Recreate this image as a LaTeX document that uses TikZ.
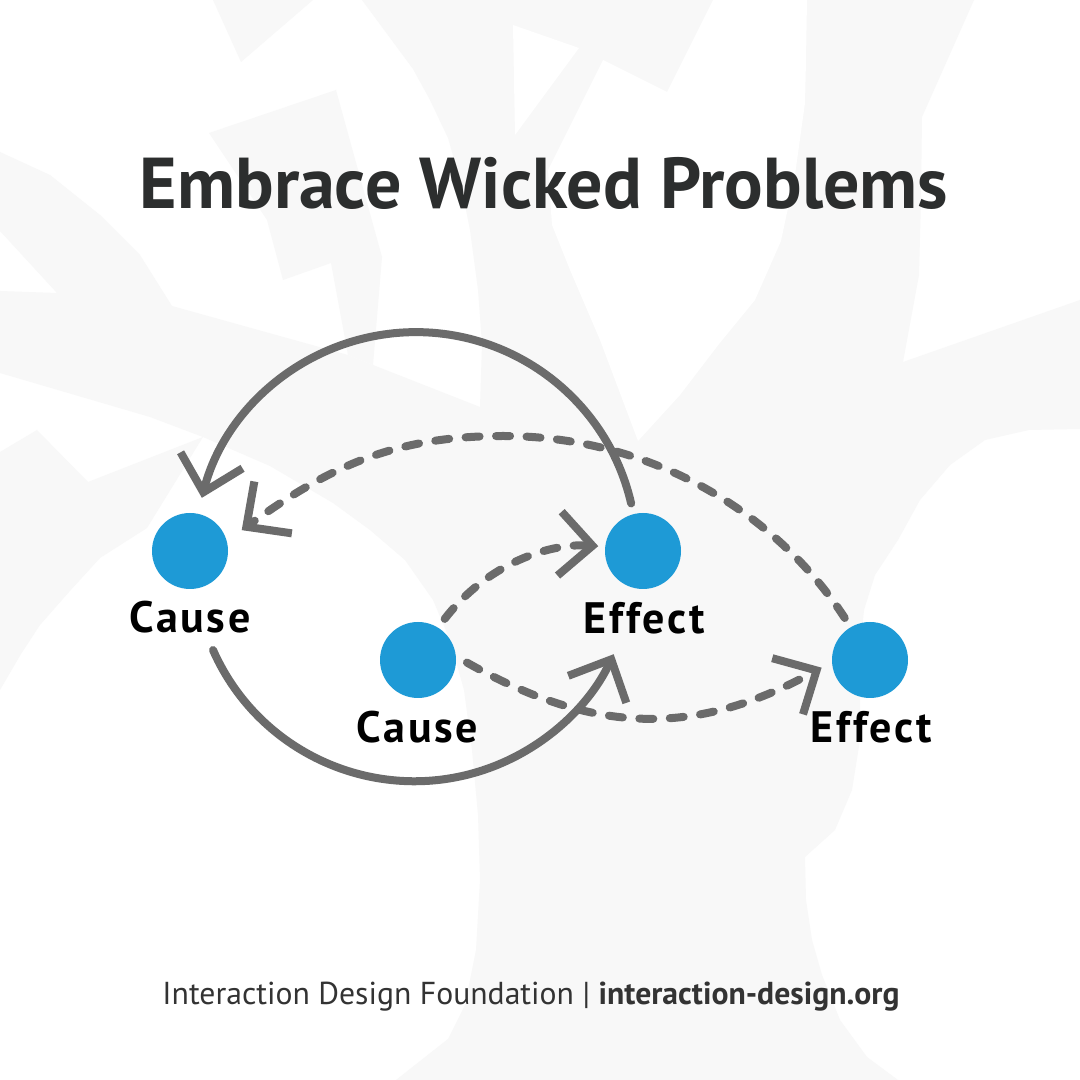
\documentclass[tikz,border=0pt]{standalone}
\usepackage{fontspec}
\setmainfont{PT Sans}
\usetikzlibrary{arrows.meta}
\definecolor{idfblue}{HTML}{1E9AD6}
\definecolor{linegray}{HTML}{6B6B6B}
\definecolor{titlegray}{HTML}{2C2E2E}
\definecolor{footgray}{HTML}{333333}
\definecolor{bgshape}{HTML}{F8F8F8}
\begin{document}
\begin{tikzpicture}[x=1pt,y=1pt,
  dot/.style={circle, fill=idfblue, minimum size=76pt, inner sep=0pt, outer sep=11pt},
  lbl/.style={font=\fontsize{44}{50}\selectfont\bfseries\addfontfeature{LetterSpace=6}, text=black, inner sep=0pt, anchor=base},
  conn/.style={draw=linegray, line width=8pt, line cap=round},
  dconn/.style={conn, dash pattern=on 14pt off 16.5pt},
  arr/.style={-{Straight Barb[length=33pt,width=64pt,line width=8pt]}}
]
\useasboundingbox (0,0) rectangle (1080,1080);
\fill[white] (0,0) rectangle (1080,1080);
% faint background shapes (pixel coordinates, y downwards)
\begin{scope}[shift={(0,1080)}, yscale=-1]
\fill[bgshape] (213,0) -- (241,62) -- (313,0) -- cycle;
\fill[bgshape] (209,133) -- (336,90) -- (382,257) -- (373,365) -- (348,355) -- (331,263) -- (283,280) -- (267,220) -- cycle;
\fill[bgshape] (362,0) -- (974,0) -- (922,117) -- (921,200) -- (919,275) -- (903,362) -- (1080,300) -- (1080,429) -- (1029,430) -- (985,440) -- (950,465) -- (920,500) -- (898,540) -- (875,575) -- (864,610) -- (860,650) -- (860,740) -- (852,790) -- (835,830) -- (805,857) -- (806,900) -- (812,940) -- (822,975) -- (840,1020) -- (867,1057) -- (898,1080) -- (396,1080) -- (448,1039) -- (465,1005) -- (476,950) -- (480,880) -- (478,815) -- (472,750) -- (464,690) -- (450,640) -- (433,600) -- (405,560) -- (370,530) -- (333,503) -- (270,466) -- (203,437) -- (150,417) -- (0,373) -- (0,291) -- (57,293) -- (0,231) -- (0,152) -- (50,175) -- (100,215) -- (140,255) -- (172,306) -- (348,355) -- (373,365) -- (480,407) -- (482,344) -- (478,290) -- (470,230) -- (460,180) -- (448,138) -- (430,100) -- (413,69) -- cycle;
\fill[bgshape] (0,452) -- (37,430) -- (88,482) -- (203,437) -- (147,528) -- (100,558) -- (69,592) -- (40,625) -- (21,654) -- (0,690) -- cycle;
\fill[white] (513,25) -- (579,48) -- (515,135) -- cycle;
\fill[white] (603,60) -- (667,92) -- (713,0) -- (807,0) -- (806,60) -- (805,103) -- (795,175) -- (781,241) -- (755,300) -- (719,344) -- (680,395) -- (638,441) -- (600,340) -- (570,270) -- (552,225) -- (548,170) -- cycle;
\end{scope}
% title
\node[font=\fontsize{72}{80}\selectfont\bfseries, text=titlegray, anchor=base, inner sep=0pt] (title) at (544,871) {Embrace Wicked Problems};
% dots
\node[dot] (c1) at (190,529) {};
\node[dot] (c2) at (418,420) {};
\node[dot] (e1) at (643,529) {};
\node[dot] (e2) at (870,420) {};
% labels
\node[lbl] (c1l) at (190,447.5) {Cause};
\node[lbl] (c2l) at (417.5,337.5) {Cause};
\node[lbl] (e1l) at (644,446.3) {Effect};
\node[lbl] (e2l) at (871,337.5) {Effect};
% connectors
\coordinate (lowstart) at (213,430);
\coordinate (dtop) at (503,644);
\draw[conn, arr] (e1.104) arc[start angle=13, end angle=165.5, radius=221];
\draw[conn, arr] (lowstart) arc[start angle=203.8, end angle=335, radius=220];
\draw[dconn, arr, shorten >=7pt] (e2.121) .. controls (777.6,565.6) and (653,644) .. (dtop) .. controls (393,644) and (327.7,612.1) .. (c1.20);
\draw[dconn, arr, shorten >=-4pt] (c2.57) .. controls (488,517) and (550,537) .. (e1.174);
\draw[dconn, arr] (c2.-3) .. controls (593.2,345.9) and (693.9,342.4) .. (e2.189);
% footer
\node[font=\fontsize{31.7}{38}\selectfont, text=footgray, anchor=base, inner sep=0pt] (foot) at (531,75) {Interaction Design Foundation \textbar\ \textbf{interaction-design.org}};
\end{tikzpicture}
\end{document}
